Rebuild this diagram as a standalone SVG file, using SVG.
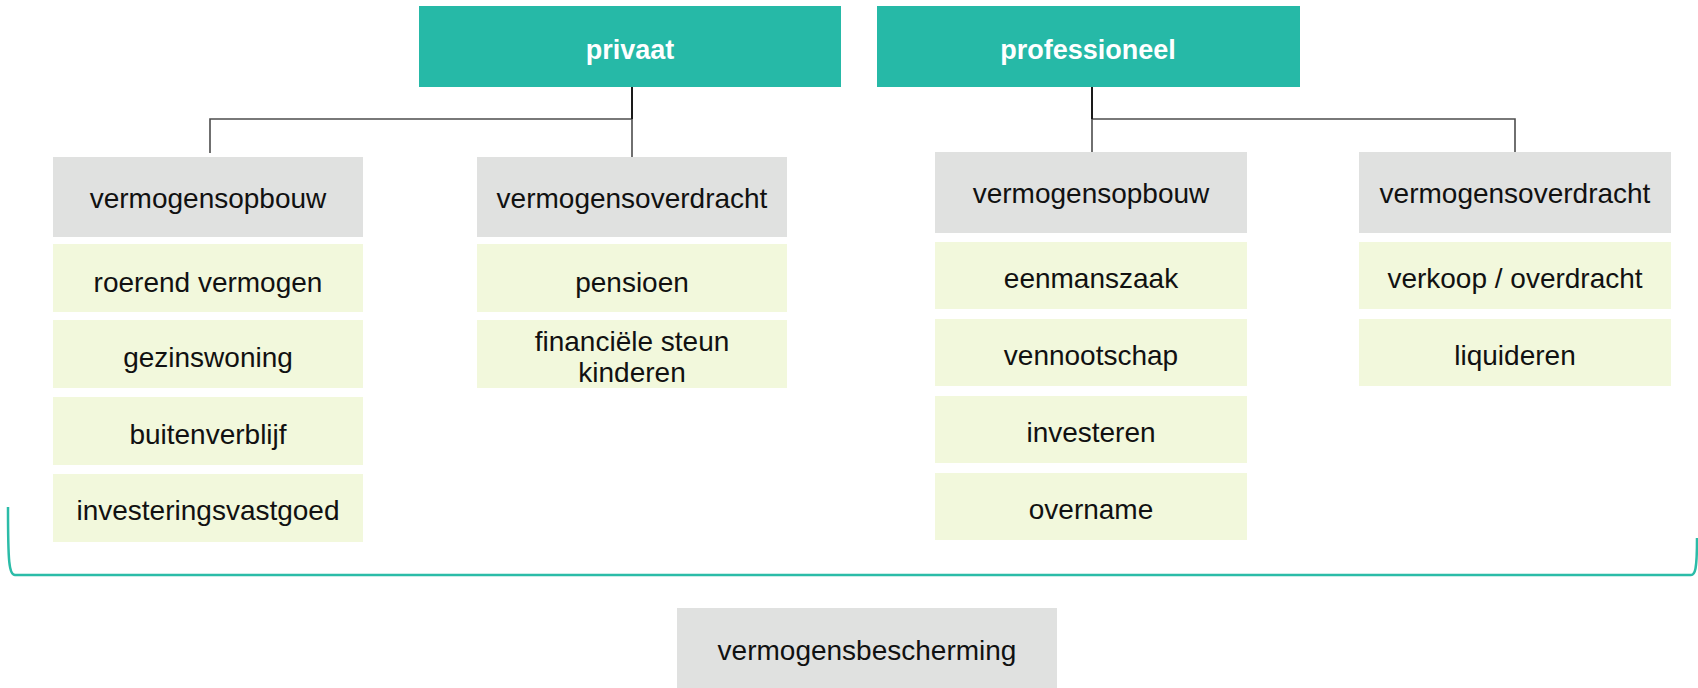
<svg xmlns="http://www.w3.org/2000/svg" width="1698" height="688" viewBox="0 0 1698 688">
<style>
text{font-family:"Liberation Sans",Arial,sans-serif;font-size:28px;fill:#111;text-anchor:middle}
.top{fill:#26b9a7}
.top-t{fill:#fff;font-weight:bold;font-size:27px}
.hdr{fill:#e0e1e0}
.item{fill:#f2f8dc}
.conn{fill:none;stroke:#4d4d4d;stroke-width:1.6}
.stem{fill:none;stroke:#1a1a1a;stroke-width:2}
.brace{fill:none;stroke:#2bbca8;stroke-width:2.5}
</style>
<g id="connectors">
<path class="conn" d="M210,153 V119 H632 V157"/>
<path class="stem" d="M632,87 V119"/>
<path class="conn" d="M1092,152 V119 H1515 V152"/>
<path class="stem" d="M1092,87 V119"/>
<path class="brace" d="M8,507 C8,562 9,575 15,575 L1691,575 C1695,575 1697,570 1697,538"/>
</g>
<g id="privaat"><rect class="top" x="419" y="6" width="422" height="81"/><text class="top-t" x="630" y="59">privaat</text></g>
<g id="professioneel"><rect class="top" x="877" y="6" width="423" height="81"/><text class="top-t" x="1088" y="59">professioneel</text></g>
<g id="priv-opbouw"><rect class="hdr" x="53" y="157" width="310" height="80"/><text x="208" y="208">vermogensopbouw</text></g>
<g id="priv-overdracht"><rect class="hdr" x="477" y="157" width="310" height="80"/><text x="632" y="208">vermogensoverdracht</text></g>
<g id="prof-opbouw"><rect class="hdr" x="935" y="152" width="312" height="81"/><text x="1091" y="203">vermogensopbouw</text></g>
<g id="prof-overdracht"><rect class="hdr" x="1359" y="152" width="312" height="81"/><text x="1515" y="203">vermogensoverdracht</text></g>
<g id="roerend"><rect class="item" x="53" y="244" width="310" height="68"/><text x="208" y="292">roerend vermogen</text></g>
<g id="gezinswoning"><rect class="item" x="53" y="320" width="310" height="68"/><text x="208" y="367">gezinswoning</text></g>
<g id="buitenverblijf"><rect class="item" x="53" y="397" width="310" height="68"/><text x="208" y="444">buitenverblijf</text></g>
<g id="investeringsvastgoed"><rect class="item" x="53" y="474" width="310" height="68"/><text x="208" y="520">investeringsvastgoed</text></g>
<g id="pensioen"><rect class="item" x="477" y="244" width="310" height="68"/><text x="632" y="292">pensioen</text></g>
<g id="steun"><rect class="item" x="477" y="320" width="310" height="68"/><text x="632" y="351">financiële steun</text><text x="632" y="382">kinderen</text></g>
<g id="eenmanszaak"><rect class="item" x="935" y="242" width="312" height="67"/><text x="1091" y="288">eenmanszaak</text></g>
<g id="vennootschap"><rect class="item" x="935" y="319" width="312" height="67"/><text x="1091" y="365">vennootschap</text></g>
<g id="investeren"><rect class="item" x="935" y="396" width="312" height="67"/><text x="1091" y="442">investeren</text></g>
<g id="overname"><rect class="item" x="935" y="473" width="312" height="67"/><text x="1091" y="519">overname</text></g>
<g id="verkoop"><rect class="item" x="1359" y="242" width="312" height="67"/><text x="1515" y="288">verkoop / overdracht</text></g>
<g id="liquideren"><rect class="item" x="1359" y="319" width="312" height="67"/><text x="1515" y="365">liquideren</text></g>
<g id="bescherming"><rect class="hdr" x="677" y="608" width="380" height="80"/><text x="867" y="660">vermogensbescherming</text></g>
</svg>
